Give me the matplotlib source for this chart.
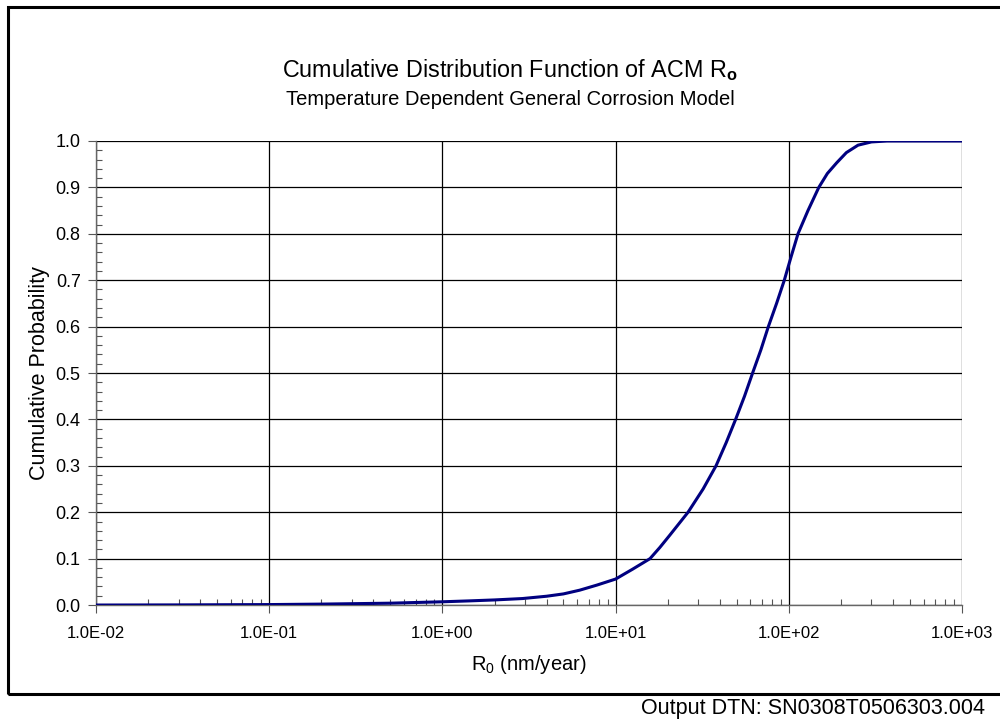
import matplotlib
matplotlib.use("Agg")
import matplotlib.pyplot as plt
from matplotlib.ticker import FixedLocator, FuncFormatter, LogLocator, MultipleLocator, NullFormatter
from matplotlib.patches import Rectangle

plt.rcParams['font.family'] = ['Liberation Sans', 'DejaVu Sans']
plt.rcParams['mathtext.fontset'] = 'custom'
plt.rcParams['mathtext.rm'] = 'Liberation Sans'
plt.rcParams['mathtext.it'] = 'Liberation Sans'
plt.rcParams['mathtext.bf'] = 'Liberation Sans:bold'

# CDF of the general corrosion rate R0 (nm/year)
r0_rate = [0.01, 0.03, 0.05, 0.1, 0.2, 0.5, 1.0, 1.44, 2.0, 2.9, 4.0, 5.0, 6.2, 7.8,
           10.0, 12.5, 15.8, 18.0, 20.5, 26.2, 32.0, 38.0, 43.5, 49.3, 55.5, 61.8, 69.0,
           76.2, 85.0, 94.2, 103.0, 113.0, 129.0, 149.0, 167.0, 189.0, 215.0, 251.0,
           300.0, 369.0, 1000.0]
cum_prob = [0.0, 0.0003, 0.0006, 0.001, 0.002, 0.004, 0.007, 0.009, 0.011, 0.014,
            0.019, 0.024, 0.032, 0.043, 0.056, 0.077, 0.10, 0.124, 0.15, 0.20, 0.25,
            0.30, 0.35, 0.40, 0.45, 0.50, 0.55, 0.60, 0.65, 0.70, 0.75, 0.80, 0.85,
            0.90, 0.93, 0.953, 0.975, 0.991, 0.998, 1.0, 1.0]

x_ticks = [1e-2, 1e-1, 1e0, 1e1, 1e2, 1e3]
y_ticks = [0.0, 0.1, 0.2, 0.3, 0.4, 0.5, 0.6, 0.7, 0.8, 0.9, 1.0]

fig = plt.figure(figsize=(10, 7.19), dpi=100)
ax = fig.add_axes([0.096, 0.1585, 0.866, 0.6454])

ax.plot(r0_rate, cum_prob, color='#000080', lw=2.2, solid_joinstyle='round', zorder=3)

ax.set_xscale('log')
ax.set_xlim(1e-2, 1e3)
ax.set_ylim(0, 1.0)

ax.xaxis.set_major_locator(FixedLocator(x_ticks))
ax.xaxis.set_major_formatter(FuncFormatter(lambda v, p: f"{v:.1E}"))
ax.xaxis.set_minor_locator(LogLocator(base=10, subs=range(2, 10)))
ax.xaxis.set_minor_formatter(NullFormatter())
ax.yaxis.set_major_locator(FixedLocator(y_ticks))
ax.yaxis.set_major_formatter(FuncFormatter(lambda v, p: f"{v:.1f}"))
ax.yaxis.set_minor_locator(MultipleLocator(0.02))

ax.grid(True, which='major', color='black', lw=0.9)
ax.tick_params(which='major', direction='out', length=6, width=0.8, color='#555555', pad=4)
ax.tick_params(which='minor', direction='in', length=4, width=0.8, color='#555555')
ax.tick_params(axis='x', which='major', labelsize=12, pad=9)
ax.tick_params(axis='y', which='major', labelsize=13, pad=5)

for side in ['left', 'bottom']:
    ax.spines[side].set_color('#666666')
    ax.spines[side].set_linewidth(1.0)
for side in ['top', 'right']:
    ax.spines[side].set_visible(False)

ax.set_xlabel(r'R$_0$ (nm/year)', fontsize=14.5, labelpad=9)
ax.set_ylabel('Cumulative Probability', fontsize=15.5, labelpad=4)

fig.text(0.51, 0.903, r'Cumulative Distribution Function of ACM R$_\mathbf{o}$',
         ha='center', va='center', fontsize=16.8)
fig.text(0.51, 0.861, 'Temperature Dependent General Corrosion Model',
         ha='center', va='center', fontsize=14.5)

fig.patches.append(Rectangle((0.008, 1 - 694 / 719), 1.0, (694 - 7) / 719,
                             transform=fig.transFigure, fill=False,
                             edgecolor='black', lw=2.2, clip_on=False))

fig.text(0.985, 0.015, 'Output DTN: SN0308T0506303.004', ha='right', va='center',
         fontsize=15.5)

fig.savefig('out.png', dpi=100, facecolor='white')
